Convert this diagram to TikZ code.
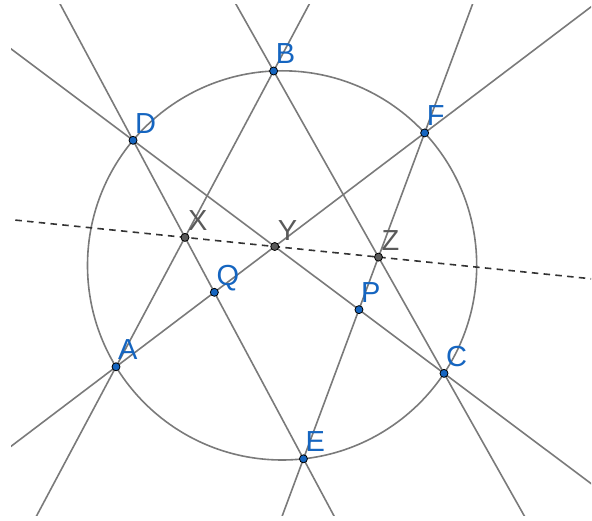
\documentclass[tikz,border=0pt]{standalone}
\usepackage{fontspec}
\setmainfont{Liberation Sans}
\usetikzlibrary{calc}
\definecolor{ggblue}{HTML}{1565C0}
\definecolor{gggray}{HTML}{5A5A5A}
\definecolor{ggline}{HTML}{7A7A7A}
\tikzset{
  geo/line/.style={draw=ggline, line width=1.6pt},
  geo/pascal/.style={draw=black!80, line width=1.6pt, dash pattern=on 6.5pt off 5.3pt},
  geo/pt/.style={circle, draw=black, line width=0.8pt, fill=ggblue, inner sep=0pt, minimum size=8pt},
  geo/gpt/.style={geo/pt, fill=gggray},
  geo/lab/.style={anchor=base west, inner sep=0pt, text=ggblue, font=\fontsize{29}{31}\selectfont},
  geo/glab/.style={geo/lab, text=gggray}
}

\begin{document}
\begin{tikzpicture}[x=1pt, y=-1pt]
\useasboundingbox (0,0) rectangle (592,521);
% circle and the six points on it
\coordinate (O) at (282.1,265.4);
\coordinate (A) at ($(O)+(148.6:194.6)$);
\coordinate (B) at ($(O)+(-92.5:194.6)$);
\coordinate (C) at ($(O)+(33.7:194.6)$);
\coordinate (D) at ($(O)+(-140:194.6)$);
\coordinate (E) at ($(O)+(83.7:194.6)$);
\coordinate (F) at ($(O)+(-42.9:194.6)$);
% intersections
\coordinate (X) at (intersection of A--B and D--E);
\coordinate (Y) at (intersection of C--D and F--A);
\coordinate (Z) at (intersection of B--C and E--F);
\coordinate (P) at (intersection of C--D and E--F);
\coordinate (Q) at (intersection of D--E and F--A);
\draw[geo/line] (O) circle[radius=194.6pt];
\begin{scope}
  \clip (11,5) rectangle (591,515);
  \foreach \s/\t in {A/B,B/C,C/D,D/E,E/F,F/A}
    \draw[geo/line] ($(\s)!-3!(\t)$) -- ($(\t)!-3!(\s)$);
  \draw[geo/pascal] ($(X)!-3!(Z)$) -- ($(Z)!-3!(X)$);
\end{scope}
\foreach \p in {A,B,C,D,E,F,P,Q}{
  \node[geo/pt] (\p-dot) at (\p) {};
  \node[geo/lab] (\p-lab) at ($(\p)+(2,-7)$) {\p};
}
\foreach \p in {X,Y,Z}{
  \node[geo/gpt] (\p-dot) at (\p) {};
  \node[geo/glab] (\p-lab) at ($(\p)+(3,-6.5)$) {\p};
}
\end{tikzpicture}
\end{document}
